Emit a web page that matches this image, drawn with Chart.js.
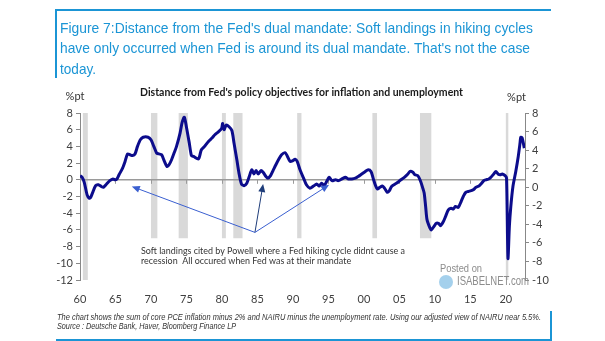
<!DOCTYPE html>
<html><head><meta charset="utf-8">
<script src="https://cdn.jsdelivr.net/npm/chart.js@4.4.1/dist/chart.umd.min.js"></script>
<style>
html,body{margin:0;padding:0;background:#fff;}
#wrap{position:relative;width:605px;height:341px;overflow:hidden;background:#fff;}
canvas{position:absolute;left:0;top:0;}
.t{position:absolute;white-space:nowrap;transform-origin:0 50%;}
.title{left:60px;font-family:'Liberation Sans Narrow','Liberation Sans',Arial,sans-serif;font-size:14.5px;color:#1b95d5;line-height:16px;}
.foot{left:57px;font-family:'Liberation Sans',Arial,sans-serif;font-style:italic;font-size:8.5px;color:#333;line-height:10px;}
.bar{position:absolute;background:#1b95d5;}
</style></head>
<body><div id="wrap">
<canvas id="c" width="605" height="341"></canvas>
<div class="bar" style="left:55px;top:9px;width:496px;height:2px"></div>
<div class="bar" style="left:55px;top:9px;width:2px;height:69px"></div>
<div class="bar" style="left:56px;top:339px;width:496px;height:2px"></div>
<div class="bar" style="left:550px;top:311px;width:2px;height:30px"></div>
<div class="t title" data-w="473" style="top:20px">Figure 7:Distance from the Fed's dual mandate: Soft landings in hiking cycles</div>
<div class="t title" data-w="470" style="top:40px">have only occurred when Fed is around its dual mandate. That's not the case</div>
<div class="t title" data-w="36" style="top:61px">today.</div>
<div class="t foot" data-w="484" style="top:312px">The chart shows the sum of core PCE inflation minus 2% and NAIRU minus the unemployment rate. Using our adjusted view of NAIRU near 5.5%.</div>
<div class="t foot" data-w="179" style="top:321px">Source : Deutsche Bank, Haver, Bloomberg Finance LP</div>
</div>
<script>
// ---- data ----
const dates = [1960.0,1960.3,1960.6,1961.0,1961.3,1961.5,1961.75,1962.2,1962.6,1963.0,1963.3,1963.75,1964.2,1964.65,1964.95,1965.2,1965.5,1966.0,1966.35,1966.7,1967.05,1967.4,1967.75,1968.1,1968.5,1968.9,1969.6,1970.0,1970.4,1970.8,1971.1,1971.5,1971.9,1972.25,1972.55,1972.9,1973.3,1973.6,1974.1,1974.4,1974.7,1975.0,1975.4,1975.7,1976.0,1976.7,1977.1,1977.6,1978.1,1978.6,1979.0,1979.5,1979.95,1980.1,1980.3,1980.6,1981.0,1981.4,1981.7,1982.1,1982.4,1982.75,1983.1,1983.5,1983.85,1984.2,1984.5,1984.8,1985.1,1985.5,1985.8,1986.2,1986.5,1986.85,1987.2,1987.6,1988.0,1988.4,1988.9,1989.2,1989.6,1990.0,1990.3,1990.6,1991.0,1991.5,1991.9,1992.4,1992.9,1993.35,1993.7,1994.05,1994.4,1994.75,1995.1,1995.5,1996.0,1996.4,1996.9,1997.4,1997.8,1998.3,1998.8,1999.2,1999.7,2000.2,2000.6,2001.0,2001.3,2001.6,2001.9,2002.25,2002.6,2002.9,2003.3,2003.6,2003.9,2004.4,2004.8,2005.2,2005.7,2006.2,2006.5,2006.9,2007.2,2007.6,2008.0,2008.3,2008.5,2008.7,2008.9,2009.3,2009.5,2009.9,2010.2,2010.55,2010.8,2011.2,2011.5,2011.9,2012.3,2012.6,2012.9,2013.3,2013.7,2014.0,2014.35,2014.7,2015.1,2015.4,2015.8,2016.2,2016.5,2016.9,2017.2,2017.6,2017.9,2018.3,2018.6,2018.9,2019.2,2019.5,2019.9,2020.1,2020.3,2020.5,2020.7,2021.0,2021.4,2021.75,2022.0,2022.1,2022.3,2022.6];
const distance = [0.5,0.3,-0.3,-1.8,-2.2,-2.1,-1.6,-0.7,-0.6,-0.8,-0.9,-0.5,-0.1,0.1,0.0,0.1,0.6,1.4,2.2,3.1,3.0,2.9,3.1,4.0,4.8,5.1,5.1,4.8,4.0,3.2,3.1,3.0,2.2,1.6,1.8,2.4,3.3,4.0,5.6,6.9,7.5,6.3,4.4,2.9,2.8,2.5,3.6,4.05,4.6,5.0,5.4,5.75,6.15,6.75,6.0,6.55,6.35,5.9,4.4,2.4,0.8,-0.5,-0.7,-0.4,0.4,1.2,0.7,1.1,0.7,1.1,0.9,0.4,0.2,0.5,1.1,1.8,2.45,3.0,3.25,2.85,2.2,2.3,2.45,2.2,1.2,0.2,-0.6,-1.0,-0.75,-0.5,-0.75,-0.4,-0.7,-0.2,0.3,-0.1,0.0,-0.1,0.1,0.3,0.1,0.1,0.2,0.4,0.7,1.0,1.2,1.0,0.2,-0.6,-1.1,-0.9,-0.75,-1.0,-1.5,-1.3,-0.8,-0.5,-0.3,0.0,0.3,0.7,1.0,0.9,0.6,0.5,-0.2,-1.0,-1.6,-3.2,-4.8,-5.75,-6.0,-5.55,-5.2,-5.25,-5.5,-5.0,-4.4,-3.6,-3.4,-3.5,-3.2,-3.3,-2.6,-2.0,-1.5,-1.4,-1.3,-1.2,-0.9,-0.75,-0.5,-0.1,0.0,0.1,0.3,0.7,1.0,0.7,0.6,0.7,0.5,0.2,-9.4,-5.55,-3.2,-0.8,1.0,2.8,4.4,5.1,5.0,3.8];
const recessions = [[1960.4,1961.1],[1970.0,1970.9],[1973.9,1975.2],[1980.0,1980.55],[1981.6,1982.9],[1990.6,1991.2],[2001.2,2001.85],[2007.9,2009.5],[2020.0,2020.35]];
const xRange = [1960, 2022.7];
const leftRange = [-12, 8];
const rightRange = [-10, 8];
const noteLines = ['Soft landings cited by Powell where a Fed hiking cycle didnt cause a','recession  All occured when Fed was at their mandate'];
const arrowFrom = [1984.65, -6.3];
const arrowTo = [[1967.3,-0.8],[1985.8,-0.5],[1995.1,-0.6]];
const chartTitle = "Distance from Fed's policy objectives for inflation and unemployment";

// fit HTML text widths
document.querySelectorAll('.t[data-w]').forEach(el=>{
  const w = el.getBoundingClientRect().width;
  el.style.transform = 'scaleX(' + (parseFloat(el.dataset.w)/w) + ')';
});

const tickFont = {family:'Lato, "Liberation Sans", sans-serif', size:11};
const tickColor = '#404040';

function fitText(ctx, txt, x, y, w){
  const n = ctx.measureText(txt).width;
  ctx.save(); ctx.translate(x,y); ctx.scale(w/n,1); ctx.fillText(txt,0,0); ctx.restore();
}

const decor = {
  id:'decor',
  beforeDatasetsDraw(chart){
    const {ctx, chartArea:a, scales:{x,y}} = chart;
    ctx.save();
    ctx.fillStyle='#d9d9d9';
    recessions.forEach(([s,e])=>{
      const x0=x.getPixelForValue(s), x1=x.getPixelForValue(e);
      ctx.fillRect(x0,a.top,Math.max(x1-x0,2),a.bottom-a.top);
    });
    // white box behind note text
    const bx0=x.getPixelForValue(1967.6), bx1=x.getPixelForValue(2012), by0=y.getPixelForValue(-7.0);
    ctx.fillStyle='#fff'; ctx.fillRect(bx0,by0,bx1-bx0,a.bottom-by0+1);
    // zero line with ticks
    const y0=y.getPixelForValue(0);
    ctx.strokeStyle='#9a9a9a'; ctx.lineWidth=1.5;
    ctx.beginPath(); ctx.moveTo(a.left,y0); ctx.lineTo(a.right,y0); ctx.stroke();
    ctx.lineWidth=1;
    x.ticks.forEach(t=>{
      const px=Math.round(x.getPixelForValue(t.value))+0.5;
      ctx.beginPath(); ctx.moveTo(px,y0); ctx.lineTo(px,y0+4); ctx.stroke();
    });
    ctx.restore();
  },
  afterDatasetsDraw(chart){
    const {ctx, chartArea:a, scales:{x,y}} = chart;
    ctx.save();
    // arrows
    const ox=x.getPixelForValue(arrowFrom[0]), oy=y.getPixelForValue(arrowFrom[1]);
    const cols=['#3a5fd0','#1f3d7a','#3a5fd0'];
    arrowTo.forEach((p,i)=>{
      const tx=x.getPixelForValue(p[0]), ty=y.getPixelForValue(p[1]);
      const ang=Math.atan2(ty-oy,tx-ox);
      ctx.strokeStyle=cols[i]; ctx.fillStyle=cols[i]; ctx.lineWidth=1;
      ctx.beginPath(); ctx.moveTo(ox,oy); ctx.lineTo(tx-6*Math.cos(ang),ty-6*Math.sin(ang)); ctx.stroke();
      ctx.beginPath(); ctx.moveTo(tx,ty);
      ctx.lineTo(tx-8*Math.cos(ang)+3.5*Math.sin(ang), ty-8*Math.sin(ang)-3.5*Math.cos(ang));
      ctx.lineTo(tx-8*Math.cos(ang)-3.5*Math.sin(ang), ty-8*Math.sin(ang)+3.5*Math.cos(ang));
      ctx.closePath(); ctx.fill();
    });
    // note text
    ctx.font='10px Lato, "Liberation Sans", sans-serif'; ctx.fillStyle='#333'; ctx.textBaseline='middle'; ctx.textAlign='left';
    const n1=ctx.measureText(noteLines[0]).width, k=264/n1;
    const nx=x.getPixelForValue(1968.6);
    fitText(ctx, noteLines[0], nx, y.getPixelForValue(-8.45), n1*k);
    fitText(ctx, noteLines[1], nx, y.getPixelForValue(-9.65), ctx.measureText(noteLines[1]).width*k);
    // chart title
    ctx.font='bold 12px Lato, "Liberation Sans", sans-serif'; ctx.fillStyle='#1a1a1a';
    fitText(ctx, chartTitle, 140, 92, 323);
    // units
    ctx.font='11px Lato, "Liberation Sans", sans-serif'; ctx.fillStyle='#333'; ctx.textAlign='center';
    ctx.fillText('%pt', 75, 96);
    ctx.fillText('%pt', 516.5, 97);
    // watermark
    ctx.fillStyle='#8c8c8c'; ctx.textAlign='left';
    ctx.font='11px "Liberation Sans", Arial, sans-serif';
    fitText(ctx,'Posted on',440,269,42);
    ctx.font='12px "Liberation Sans", Arial, sans-serif';
    fitText(ctx,'ISABELNET.com',457,282,72);
    ctx.fillStyle='rgba(90,170,220,0.55)';
    ctx.beginPath(); ctx.arc(446,282,7,0,Math.PI*2); ctx.fill();
    ctx.restore();
  }
};

new Chart(document.getElementById('c'), {
  type:'line',
  data:{datasets:[{
    data: dates.map((d,i)=>({x:d,y:distance[i]})),
    borderColor:'#0c0c8c', borderWidth:3, pointRadius:0, tension:0.25, fill:false
  }]},
  options:{
    responsive:false, animation:false, devicePixelRatio:1,
    layout:{padding:{top:113,left:0,right:0,bottom:0}},
    plugins:{legend:{display:false}, tooltip:{enabled:false}},
    scales:{
      x:{type:'linear', min:xRange[0], max:xRange[1],
         grid:{display:false}, border:{display:false},
         ticks:{stepSize:5, includeBounds:false, autoSkip:false, maxRotation:0, padding:5, font:tickFont, color:tickColor,
                callback:v=> String(v%100).padStart(2,'0')},
         afterFit:s=>{s.height=61;}},
      y:{position:'left', min:leftRange[0], max:leftRange[1],
         grid:{drawOnChartArea:false, drawTicks:true, tickLength:4, color:'#888'},
         border:{display:true, color:'#888', width:1},
         ticks:{stepSize:2, padding:3, font:tickFont, color:tickColor},
         afterFit:s=>{s.width=80;}},
      y2:{position:'right', min:rightRange[0], max:rightRange[1],
         grid:{drawOnChartArea:false, drawTicks:true, tickLength:4, color:'#888'},
         border:{display:true, color:'#888', width:1},
         ticks:{stepSize:2, padding:3, font:tickFont, color:tickColor},
         afterFit:s=>{s.width=80;}}
    }
  },
  plugins:[decor]
});
</script>
</body></html>
